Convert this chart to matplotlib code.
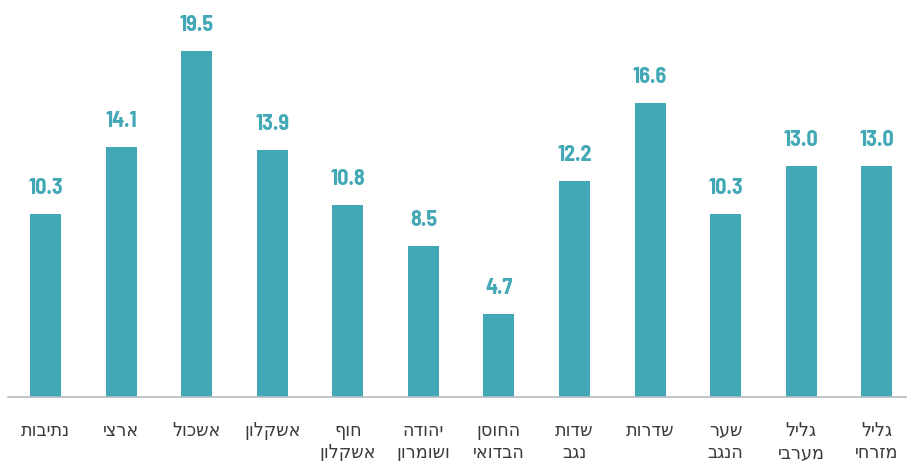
import matplotlib
matplotlib.use("Agg")
import matplotlib.pyplot as plt

categories = ["נתיבות", "ארצי", "אשכול", "אשקלון", "חוף\nאשקלון", "יהודה\nושומרון",
              "החוסן\nהבדואי", "שדות\nנגב", "שדרות", "שער\nהנגב", "גליל\nמערבי", "גליל\nמזרחי"]
values = [10.3, 14.1, 19.5, 13.9, 10.8, 8.5, 4.7, 12.2, 16.6, 10.3, 13.0, 13.0]

BAR = "#42a8b6"
W, H = 907, 461
fig = plt.figure(figsize=(W / 100, H / 100), dpi=100)
ax = fig.add_axes([8 / W, 1 - 397 / H, 1 - 8 / W, 397 / H])

x = list(range(len(values)))
ax.bar(x, values, width=0.41, color=BAR)
ax.set_xlim(-0.496, 11.4)
ax.set_ylim(0, 22.38)

for s in ["top", "right", "left"]:
    ax.spines[s].set_visible(False)
ax.spines["bottom"].set_color("#b4bcc4")
ax.spines["bottom"].set_linewidth(1.2)
ax.set_yticks([])
ax.set_xticks([])

for xi, v in zip(x, values):
    ax.annotate(f"{v:.1f}", xy=(xi, v), xytext=(0, 14.4), textcoords="offset points",
                ha="center", va="baseline", fontsize=16, fontweight="bold",
                color=BAR, family=["Barlow Semi Condensed", "Barlow Condensed", "DejaVu Sans"])

for xi, lab in zip(x, categories):
    disp = "\n".join(line[::-1] for line in lab.split("\n"))
    ax.annotate(disp, xy=(xi, 0), xytext=(0, -18), textcoords="offset points",
                ha="center", va="top", fontsize=14, color="#3a3a3a",
                family=["Open Sans", "DejaVu Sans"], stretch="condensed",
                linespacing=1.32)

fig.savefig("out.png", dpi=100)
